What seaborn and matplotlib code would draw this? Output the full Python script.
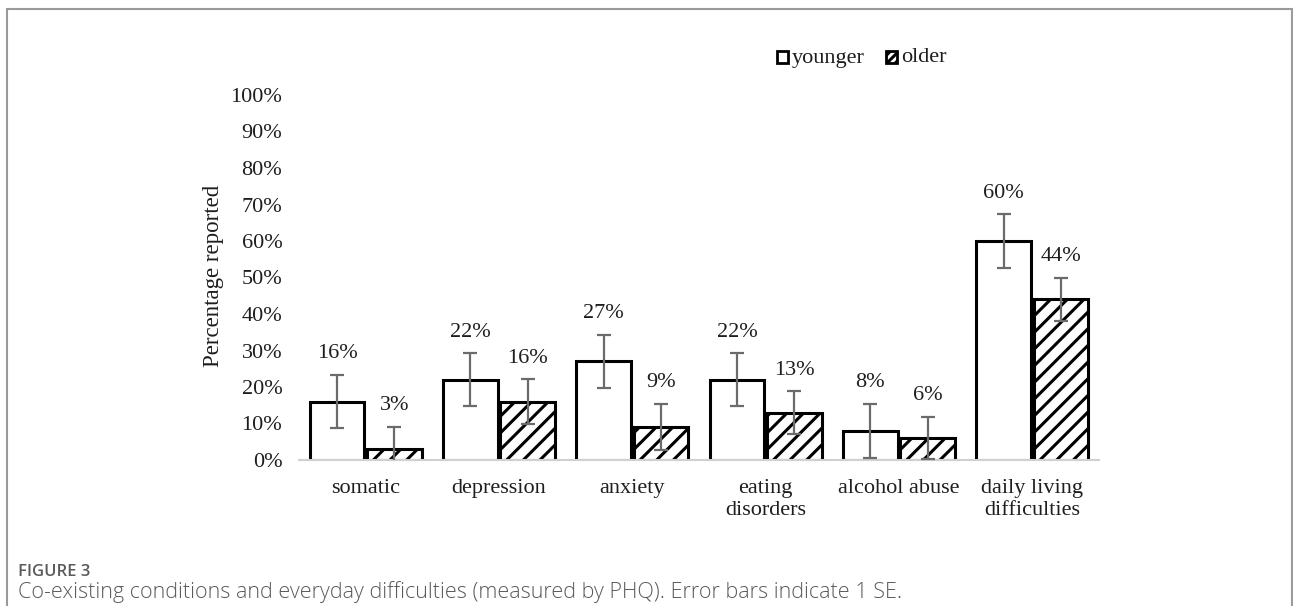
import matplotlib
matplotlib.use("Agg")
import matplotlib.pyplot as plt
import seaborn as sns
import pandas as pd
from matplotlib.patches import Rectangle

categories = ["somatic", "depression", "anxiety", "eating\ndisorders", "alcohol abuse", "daily living\ndifficulties"]
groups = ["younger", "older"]
younger = [16, 22, 27, 22, 8, 60]
older = [3, 16, 9, 13, 6, 44]
younger_se = [7.3, 7.2, 7.3, 7.2, 7.4, 7.3]
older_se = [6.0, 6.1, 6.3, 5.8, 5.8, 6.0]
yticks = list(range(0, 101, 10))

sns.set_theme(style="white")
plt.rcParams['font.family'] = ['Liberation Serif', 'DejaVu Serif']
plt.rcParams['hatch.linewidth'] = 2.2
plt.rcParams['hatch.color'] = 'black'

TXT = "#1e1e1e"
FS = 16

df = pd.DataFrame({
    "category": categories * 2,
    "group": [groups[0]] * len(categories) + [groups[1]] * len(categories),
    "value": younger + older,
})

W, H = 1293, 606
fig = plt.figure(figsize=(W / 100, H / 100), dpi=100)
ax = fig.add_axes([299 / W, (H - 460) / H, (1099 - 299) / W, (460 - 95) / H])

sns.barplot(data=df, x="category", y="value", hue="group", order=categories,
            hue_order=groups, palette=["white", "white"], edgecolor="black",
            linewidth=2.2, width=0.86, gap=0.05, errorbar=None, legend=False, ax=ax)

ses = {"younger": younger_se, "older": older_se}
vals = {"younger": younger, "older": older}
for cont, g in zip(ax.containers, groups):
    for i, bar in enumerate(cont):
        if g == "older":
            bar.set_hatch("//")
        cx = bar.get_x() + bar.get_width() / 2
        v = vals[g][i]
        se = ses[g][i]
        ax.errorbar(cx, v, yerr=se, fmt="none", ecolor="#6b6b6b", elinewidth=1.6,
                    capsize=5, capthick=1.6, zorder=5)
        ax.annotate(f"{v}%", (cx, v + se), xytext=(0, 8.5), textcoords="offset points",
                    ha="center", va="bottom", fontsize=FS, color=TXT)

ax.set_ylim(0, 100)
ax.set_xlim(-0.5, len(categories) - 0.5)
ax.set_yticks(yticks)
ax.set_yticklabels([f"{t}%" for t in yticks], fontsize=FS, color=TXT)
ax.tick_params(axis="y", length=0, pad=12)
ax.tick_params(axis="x", length=0, pad=14, labelsize=FS, labelcolor=TXT)
for lbl in ax.get_xticklabels():
    lbl.set_linespacing(1.2)
ax.set_xlabel("")
ax.set_ylabel("")
for s in ["top", "right", "left"]:
    ax.spines[s].set_visible(False)
ax.spines["bottom"].set_color("#d0d0d0")
ax.spines["bottom"].set_linewidth(1.5)
ax.grid(False)

fig.text(213 / W, 1 - 276 / H, "Percentage reported", rotation=90, ha="center",
         va="center", fontsize=16.5, color=TXT)

# legend
sq = 11
for x0, hatch, label in [(777, None, "younger"), (886, "////", "older")]:
    r = Rectangle((x0 / W, 1 - (57 + sq / 2) / H), sq / W, sq / H, transform=fig.transFigure,
                  facecolor="white", edgecolor="black", linewidth=2, hatch=hatch)
    fig.add_artist(r)
    fig.text((x0 + sq + 4) / W, 1 - 58 / H, label, ha="left", va="center",
             fontsize=FS, color=TXT)

# outer frame
frame = Rectangle((7 / W, -0.05), (1292 - 7) / W, (1 + 0.05) - 9 / H, transform=fig.transFigure,
                  fill=False, edgecolor="#9a9a9a", linewidth=1.5)
fig.add_artist(frame)

fig.text(18 / W, 1 - 572 / H, "FIGURE 3", ha="left", va="center", fontsize=12,
         color="#5a5a5a", family=["Open Sans", "DejaVu Sans"], fontweight="semibold")
fig.text(18 / W, 1 - 592 / H,
         "Co-existing conditions and everyday difficulties (measured by PHQ). Error bars indicate 1 SE.",
         ha="left", va="center", fontsize=15.5, color="#5a5a5a", family=["Open Sans", "DejaVu Sans"],
         fontweight="light")

fig.savefig("out.png", dpi=100)
